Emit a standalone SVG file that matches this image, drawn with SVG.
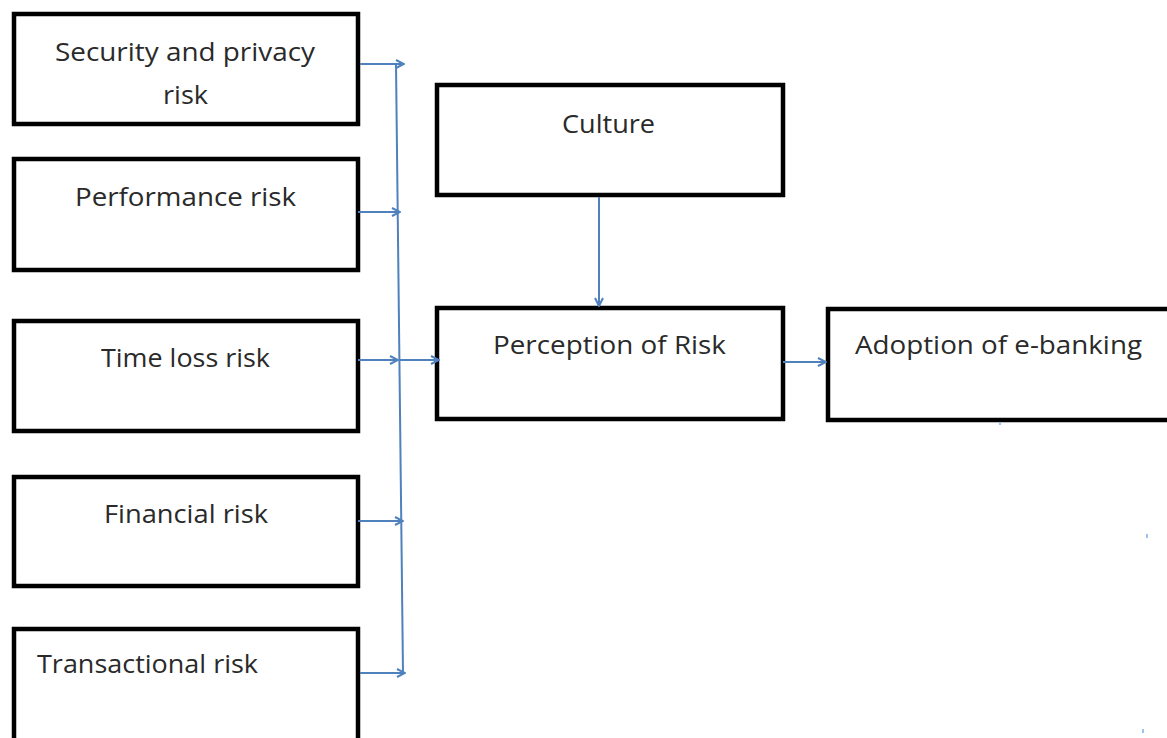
<svg xmlns="http://www.w3.org/2000/svg" width="1167" height="738" viewBox="0 0 1167 738">
<style>
.box{fill:#fff;stroke:#000;stroke-width:4.5}
.lbl{font-family:"Open Sans","Liberation Sans",sans-serif;font-size:25px;fill:#2a2a2a}
.con{stroke:#4f81bd;stroke-width:2;fill:none}
</style>
<defs>
<marker id="ah" viewBox="0 0 10 10" refX="9" refY="5" markerWidth="10" markerHeight="10" markerUnits="userSpaceOnUse" orient="auto">
<path d="M1,1 L9,5 L1,9" fill="none" stroke="#4f81bd" stroke-width="2"/>
</marker>
</defs>
<rect width="1167" height="738" fill="#fff"/>
<g id="n-security"><rect class="box" x="14" y="14" width="344" height="110"/>
<text class="lbl" x="55" y="61" textLength="260" lengthAdjust="spacingAndGlyphs">Security and privacy</text>
<text class="lbl" x="163" y="104" textLength="45" lengthAdjust="spacingAndGlyphs">risk</text></g>
<g id="n-performance"><rect class="box" x="14" y="159" width="344" height="111"/>
<text class="lbl" x="75" y="206" textLength="221" lengthAdjust="spacingAndGlyphs">Performance risk</text></g>
<g id="n-time"><rect class="box" x="14" y="321" width="344" height="110"/>
<text class="lbl" x="101" y="367" textLength="169" lengthAdjust="spacingAndGlyphs">Time loss risk</text></g>
<g id="n-financial"><rect class="box" x="14" y="477" width="344" height="109"/>
<text class="lbl" x="104" y="523" textLength="164" lengthAdjust="spacingAndGlyphs">Financial risk</text></g>
<g id="n-transactional"><rect class="box" x="14" y="629" width="344" height="112"/>
<text class="lbl" x="37" y="673" textLength="221" lengthAdjust="spacingAndGlyphs">Transactional risk</text></g>
<g id="n-culture"><rect class="box" x="437" y="85" width="346" height="110"/>
<text class="lbl" x="562" y="133" textLength="93" lengthAdjust="spacingAndGlyphs">Culture</text></g>
<g id="n-perception"><rect class="box" x="437" y="308" width="346" height="111"/>
<text class="lbl" x="493" y="354" textLength="233" lengthAdjust="spacingAndGlyphs">Perception of Risk</text></g>
<g id="n-adoption"><rect class="box" x="828" y="309" width="345" height="111"/>
<text class="lbl" x="855" y="354" textLength="287" lengthAdjust="spacingAndGlyphs">Adoption of e-banking</text></g>
<g id="connectors">
<line class="con" x1="396" y1="64" x2="403" y2="673"/>
<line class="con" x1="360" y1="64" x2="404" y2="64" marker-end="url(#ah)"/>
<line class="con" x1="358" y1="212" x2="400" y2="212" marker-end="url(#ah)"/>
<line class="con" x1="358" y1="360" x2="398" y2="360" marker-end="url(#ah)"/>
<line class="con" x1="399" y1="360" x2="439" y2="360" marker-end="url(#ah)"/>
<line class="con" x1="358" y1="521" x2="403" y2="521" marker-end="url(#ah)"/>
<line class="con" x1="360" y1="673" x2="405" y2="673" marker-end="url(#ah)"/>
<line class="con" x1="599" y1="197" x2="599" y2="306" marker-end="url(#ah)"/>
<line class="con" x1="783" y1="362" x2="826" y2="362" marker-end="url(#ah)"/>
</g>
<g id="specks" fill="#9cc3ea">
<rect x="1146" y="534" width="2" height="4"/>
<rect x="1142" y="729" width="2" height="4"/>
<rect x="999" y="422" width="2" height="3"/>
</g>
</svg>
